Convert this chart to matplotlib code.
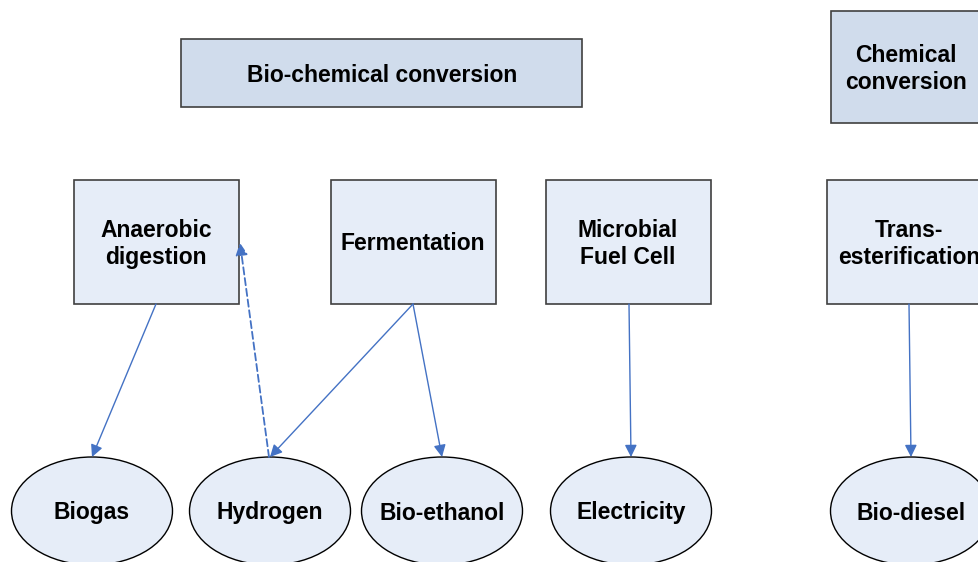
import matplotlib.pyplot as plt
from matplotlib.patches import Rectangle, Ellipse, FancyArrowPatch

plt.rcParams['font.family'] = ['Liberation Sans', 'DejaVu Sans']

# --- Diagram content ---
header_labels = ["Bio-chemical conversion", "Chemical\nconversion"]
process_labels = ["Anaerobic\ndigestion", "Fermentation", "Microbial\nFuel Cell", "Trans-\nesterification"]
product_labels = ["Biogas", "Hydrogen", "Bio-ethanol", "Electricity", "Bio-diesel"]

# links: (process index, product index)
links = [(0, 0), (1, 1), (1, 2), (2, 3), (3, 4)]

# --- Layout (pixel coords, y downwards) ---
header_boxes = [(181, 39, 401, 68), (831, 11, 160, 112)]
header_text_x = [382, 906]
process_boxes = [(74, 180, 165, 124), (331, 180, 165, 124), (546, 180, 165, 124), (827, 180, 165, 124)]
process_text_x = [156, 413, 628, 909]
product_centers = [(92, 511), (270, 511), (442, 511), (631, 511), (911, 511)]
ell_w, ell_h = 161, 108

header_fc = '#D0DCEC'
box_fc = '#E6EDF8'
edge = '#404040'
arrow_c = '#4472C4'
fs = 16.5
dy = 2  # nudge text to match baseline

fig = plt.figure(figsize=(9.79, 5.62), dpi=100)
ax = fig.add_axes([0, 0, 1, 1])
ax.set_xlim(0, 979)
ax.set_ylim(562, 0)
ax.axis('off')

for (x, y, w, h), tx, lab in zip(header_boxes, header_text_x, header_labels):
    ax.add_patch(Rectangle((x, y), w, h, fc=header_fc, ec=edge, lw=1.2))
    ax.text(tx, y + h / 2 + dy, lab, ha='center', va='center',
            fontsize=fs, fontweight='bold', linespacing=1.2)

for (x, y, w, h), tx, lab in zip(process_boxes, process_text_x, process_labels):
    ax.add_patch(Rectangle((x, y), w, h, fc=box_fc, ec=edge, lw=1.2))
    ax.text(tx, y + h / 2 + dy, lab, ha='center', va='center',
            fontsize=fs, fontweight='bold', linespacing=1.2)

for (cx, cy), lab in zip(product_centers, product_labels):
    ax.add_patch(Ellipse((cx, cy), ell_w, ell_h, fc=box_fc, ec='black', lw=1.0))
    ax.text(cx, cy + dy, lab, ha='center', va='center', fontsize=fs, fontweight='bold')

# arrows from process box bottom to product top
starts = {0: (156, 304), 1: (413, 304), 2: (629, 304), 3: (909, 304)}
for p, q in links:
    sx, sy = starts[p]
    ex, ey = product_centers[q][0], product_centers[q][1] - ell_h / 2
    ax.add_patch(FancyArrowPatch((sx, sy), (ex, ey), arrowstyle='-|>', mutation_scale=18,
                                 color=arrow_c, lw=1.0, shrinkA=0, shrinkB=0))

# dashed feedback: Hydrogen -> Anaerobic digestion
ax.add_patch(FancyArrowPatch((269, 457), (240, 243), arrowstyle='-|>', mutation_scale=18,
                             color=arrow_c, lw=1.3, linestyle=(0, (4, 2)), shrinkA=0, shrinkB=0))

fig.savefig('out.png', dpi=100)
